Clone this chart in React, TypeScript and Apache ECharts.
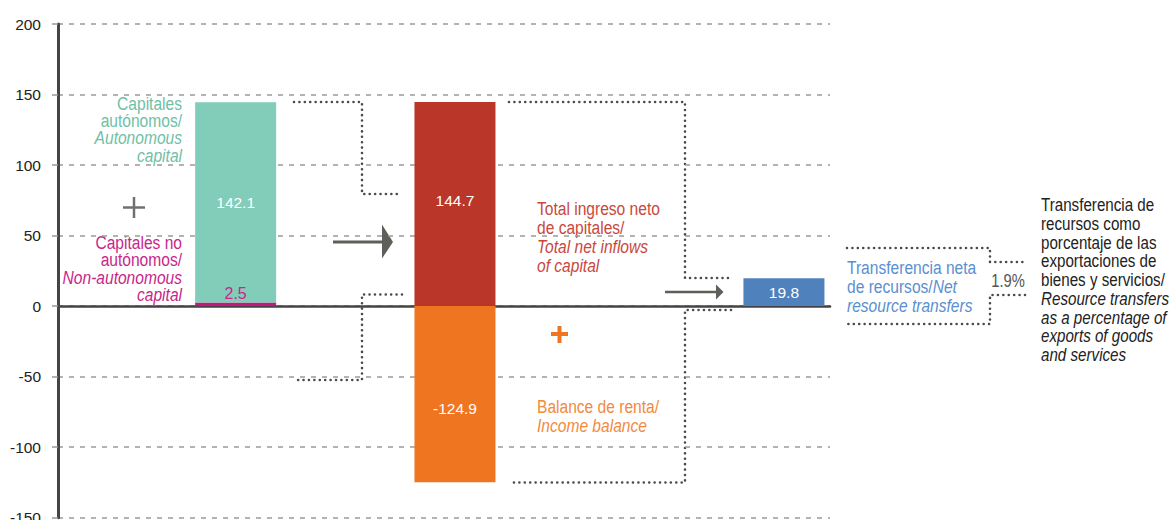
import React, { useEffect, useRef } from "react";
import * as echarts from "echarts";

// ---- data ----
const slots = [1, 3, 6]; // ordinal position of each column in the flow
const nonAutonomous = [2.5, null, null];
const autonomous = [142.1, null, null];
const totalInflows = [null, 144.7, null];
const incomeBalance = [null, -124.9, null];
const netTransfer = [null, null, 19.8];
const yTicks = { min: -150, max: 200, step: 50 };
const transferPct = "1.9%";

const FONT = '"Liberation Sans", Arial, sans-serif';
const NARROW = 0.82;

const C = {
  teal: "#82cdb9",
  tealText: "#6fc0a5",
  magenta: "#c4177f",
  magentaText: "#c8268b",
  red: "#b93628",
  redText: "#c9483c",
  orange: "#f07521",
  orangeText: "#f28a3e",
  blue: "#4f81bd",
  blueText: "#5b8fd0",
  axis: "#444",
  grid: "#9a9a9a",
  dots: "#4a4a4a",
  arrow: "#5e5f59",
};

// value first, slot second (so that the value dimension is the stacked one)
function pairs(vals: (number | null)[]) {
  return vals.map((v, i) => [v == null ? "-" : v, slots[i]]);
}

function textLines(
  x: number,
  y0: number,
  dy: number,
  lines: { t: string; i?: boolean; rich?: boolean }[],
  color: string,
  align: string,
  size = 19
) {
  return lines.map((l, k) => ({
    type: "text",
    x,
    y: y0 + k * dy,
    scaleX: NARROW,
    style: {
      text: l.t,
      fill: color,
      font: `${l.i ? "italic " : ""}${size}px ${FONT}`,
      textAlign: align,
      textVerticalAlign: "middle",
      rich: l.rich
        ? { it: { fontStyle: "italic", fontSize: size, fontFamily: FONT, fill: color } }
        : undefined,
    },
  }));
}

function dotted(points: number[][]) {
  return {
    type: "polyline",
    shape: { points },
    style: {
      stroke: C.dots,
      lineWidth: 2.6,
      lineDash: [0.01, 5.4],
      lineCap: "round",
      fill: null,
    },
  };
}

function buildGraphics() {
  const g: any[] = [];
  g.push(
    ...textLines(182, 103, 17.4, [
      { t: "Capitales" },
      { t: "autónomos/" },
      { t: "Autonomous", i: true },
      { t: "capital", i: true },
    ], C.tealText, "right")
  );
  g.push(
    ...textLines(182, 242, 17.6, [
      { t: "Capitales no" },
      { t: "autónomos/" },
      { t: "Non-autonomous", i: true },
      { t: "capital", i: true },
    ], C.magentaText, "right")
  );
  // grey plus
  g.push({ type: "line", shape: { x1: 123, y1: 207.5, x2: 145, y2: 207.5 }, style: { stroke: "#707070", lineWidth: 2.5 } });
  g.push({ type: "line", shape: { x1: 134, y1: 197, x2: 134, y2: 218 }, style: { stroke: "#707070", lineWidth: 2.5 } });
  // orange plus
  g.push({ type: "line", shape: { x1: 551, y1: 334, x2: 568, y2: 334 }, style: { stroke: C.orange, lineWidth: 4 } });
  g.push({ type: "line", shape: { x1: 559.5, y1: 326, x2: 559.5, y2: 343 }, style: { stroke: C.orange, lineWidth: 4 } });
  // arrows
  g.push({ type: "line", shape: { x1: 333, y1: 242, x2: 384, y2: 242 }, style: { stroke: C.arrow, lineWidth: 3 } });
  g.push({ type: "polygon", shape: { points: [[382, 224.5], [393, 242], [382, 258.5]] }, style: { fill: C.arrow } });
  g.push({ type: "line", shape: { x1: 665, y1: 292, x2: 718, y2: 292 }, style: { stroke: C.arrow, lineWidth: 2.5 } });
  g.push({ type: "polygon", shape: { points: [[716, 284.5], [723.5, 292], [716, 299.5]] }, style: { fill: C.arrow } });
  // connectors
  g.push(dotted([[294, 102], [362, 102], [362, 194], [402, 194]]));
  g.push(dotted([[402, 294.5], [362, 294.5], [362, 380], [294, 380]]));
  g.push(dotted([[509, 102], [685, 102], [685, 278], [731, 278]]));
  g.push(dotted([[731, 310], [685, 310], [685, 482.5], [509, 482.5]]));
  g.push(dotted([[847, 248], [990, 248], [990, 262], [1025, 262]]));
  g.push(dotted([[1025, 295], [990, 295], [990, 324], [847, 324]]));
  g.push(
    ...textLines(537, 208, 19, [
      { t: "Total ingreso neto" },
      { t: "de capitales/" },
      { t: "Total net inflows", i: true },
      { t: "of capital", i: true },
    ], C.redText, "left")
  );
  g.push(
    ...textLines(537, 406, 19.3, [
      { t: "Balance de renta/" },
      { t: "Income balance", i: true },
    ], C.orangeText, "left")
  );
  g.push(
    ...textLines(847, 267, 19, [
      { t: "Transferencia neta" },
      { t: "de recursos/{it|Net}", rich: true },
      { t: "resource transfers", i: true },
    ], C.blueText, "left")
  );
  g.push({
    type: "text",
    x: 1008,
    y: 280,
    scaleX: NARROW,
    style: { text: transferPct, fill: "#555", font: `18px ${FONT}`, textAlign: "center", textVerticalAlign: "middle" },
  });
  g.push(
    ...textLines(1041, 205, 18.75, [
      { t: "Transferencia de" },
      { t: "recursos como" },
      { t: "porcentaje de las" },
      { t: "exportaciones de" },
      { t: "bienes y servicios/" },
      { t: "Resource transfers", i: true },
      { t: "as a percentage of", i: true },
      { t: "exports of goods", i: true },
      { t: "and services", i: true },
    ], "#222", "left", 18.5)
  );
  return g;
}

function barSeries(name: string, vals: (number | null)[], color: string, label: any) {
  return {
    name,
    type: "bar",
    stack: "flow",
    barWidth: 81,
    data: pairs(vals),
    encode: { x: 1, y: 0 },
    itemStyle: { color },
    label: {
      show: true,
      fontFamily: FONT,
      fontSize: 15.5,
      color: "#fff",
      formatter: (p: any) => String(p.value[0]),
      ...label,
    },
  };
}

export default function App() {
  const ref = useRef<HTMLDivElement>(null);
  useEffect(() => {
    if (!ref.current) return;
    const chart = echarts.init(ref.current, null, { renderer: "svg" });
    chart.setOption({
      animation: false,
      grid: { left: 58, right: 342, top: 24, bottom: 2.3, outerBoundsMode: "none", containLabel: false },
      xAxis: {
        type: "value",
        min: -0.62,
        max: 6.42,
        axisLine: { show: true, onZero: true, lineStyle: { color: C.axis, width: 2.6 } },
        axisTick: { show: false },
        axisLabel: { show: false },
        splitLine: { show: false },
      },
      yAxis: {
        type: "value",
        min: yTicks.min,
        max: yTicks.max,
        interval: yTicks.step,
        axisLine: { show: true, onZero: false, lineStyle: { color: C.axis, width: 3 } },
        axisTick: { show: true, length: 6, lineStyle: { color: C.grid, width: 1.5 } },
        axisLabel: { fontFamily: FONT, fontSize: 15.5, color: "#222", margin: 17 },
        splitLine: { show: true, lineStyle: { color: C.grid, width: 1.5, type: [5, 6] } },
      },
      series: [
        barSeries("Capitales no autónomos", nonAutonomous, C.magenta, {
          position: "top",
          distance: 1,
          color: C.magentaText,
          fontSize: 16,
        }),
        barSeries("Capitales autónomos", autonomous, C.teal, { position: "inside" }),
        barSeries("Total ingreso neto de capitales", totalInflows, C.red, {
          position: "inside",
          offset: [0, -4],
        }),
        barSeries("Balance de renta", incomeBalance, C.orange, {
          position: "inside",
          offset: [0, 14],
        }),
        barSeries("Transferencia neta de recursos", netTransfer, C.blue, { position: "inside" }),
      ],
      graphic: buildGraphics(),
    });
    return () => chart.dispose();
  }, []);
  return (
    <div
      ref={ref}
      style={{ position: "fixed", left: 0, top: 0, width: 1172, height: 520, background: "#fff" }}
    />
  );
}
